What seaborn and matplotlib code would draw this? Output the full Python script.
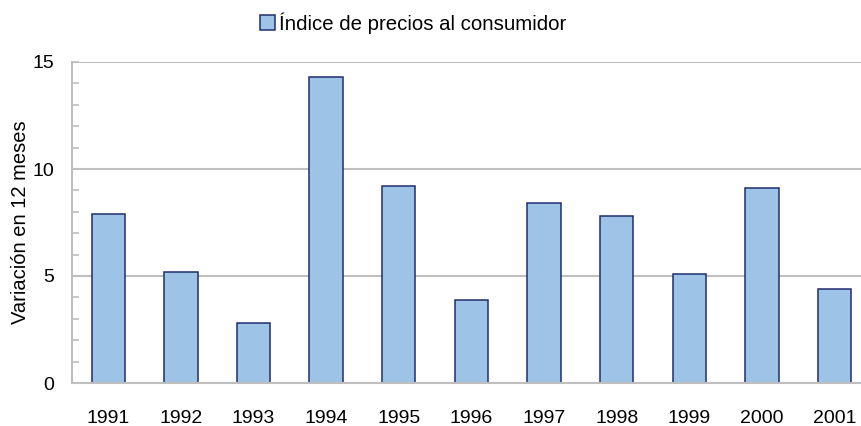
import matplotlib
matplotlib.use("Agg")
import matplotlib.pyplot as plt
import seaborn as sns
import pandas as pd
from matplotlib.ticker import MultipleLocator

years = ["1991", "1992", "1993", "1994", "1995", "1996", "1997", "1998", "1999", "2000", "2001"]
ipc = [7.9, 5.2, 2.8, 14.3, 9.2, 3.9, 8.4, 7.8, 5.1, 9.1, 4.4]
series_name = "Índice de precios al consumidor"
y_label = "Variación en 12 meses"

sns.set_theme(style="white")
plt.rcParams["font.family"] = ["Liberation Sans", "DejaVu Sans"]
plt.rcParams["text.color"] = "#000000"

df = pd.DataFrame({"year": years, "value": ipc})

fig = plt.figure(figsize=(8.61, 4.26), dpi=100)
ax = fig.add_axes([72/861, 43/426, (870.8-72)/861, (383-62)/426])

sns.barplot(data=df, x="year", y="value", ax=ax, color="#9DC3E6", saturation=1,
            width=0.46, edgecolor="#1F2D6E", linewidth=1.1, label=series_name)

ax.set_ylim(0, 15)
ax.set_xlim(-0.5, 10.5)
ax.yaxis.set_major_locator(MultipleLocator(5))
ax.yaxis.set_minor_locator(MultipleLocator(1))
ax.grid(axis="y", which="major", color="#BFBFBF", linewidth=1.5, zorder=0)
ax.set_axisbelow(True)

for s in ["top", "right"]:
    ax.spines[s].set_visible(False)
for s in ["left", "bottom"]:
    ax.spines[s].set_color("#BFBFBF")
    ax.spines[s].set_linewidth(1.5)

ax.tick_params(axis="y", which="both", direction="in", color="#BFBFBF", width=1.2,
               labelsize=14, labelcolor="#000000", pad=13, left=True)
ax.tick_params(axis="y", which="minor", length=5)
ax.tick_params(axis="y", which="major", length=5)
ax.tick_params(axis="x", length=0, labelsize=14, labelcolor="#000000", pad=19.5)

ax.set_xlabel("")
ax.set_ylabel(y_label, fontsize=14.5, color="#000000", labelpad=1.5)

leg = ax.legend(loc="center", bbox_to_anchor=(413/861, 1 - 23/426), bbox_transform=fig.transFigure,
                frameon=False, fontsize=14.7, handlelength=0.75, handleheight=0.75, handletextpad=0.2,
                labelcolor="#000000")

fig.savefig("out.png", dpi=100)
